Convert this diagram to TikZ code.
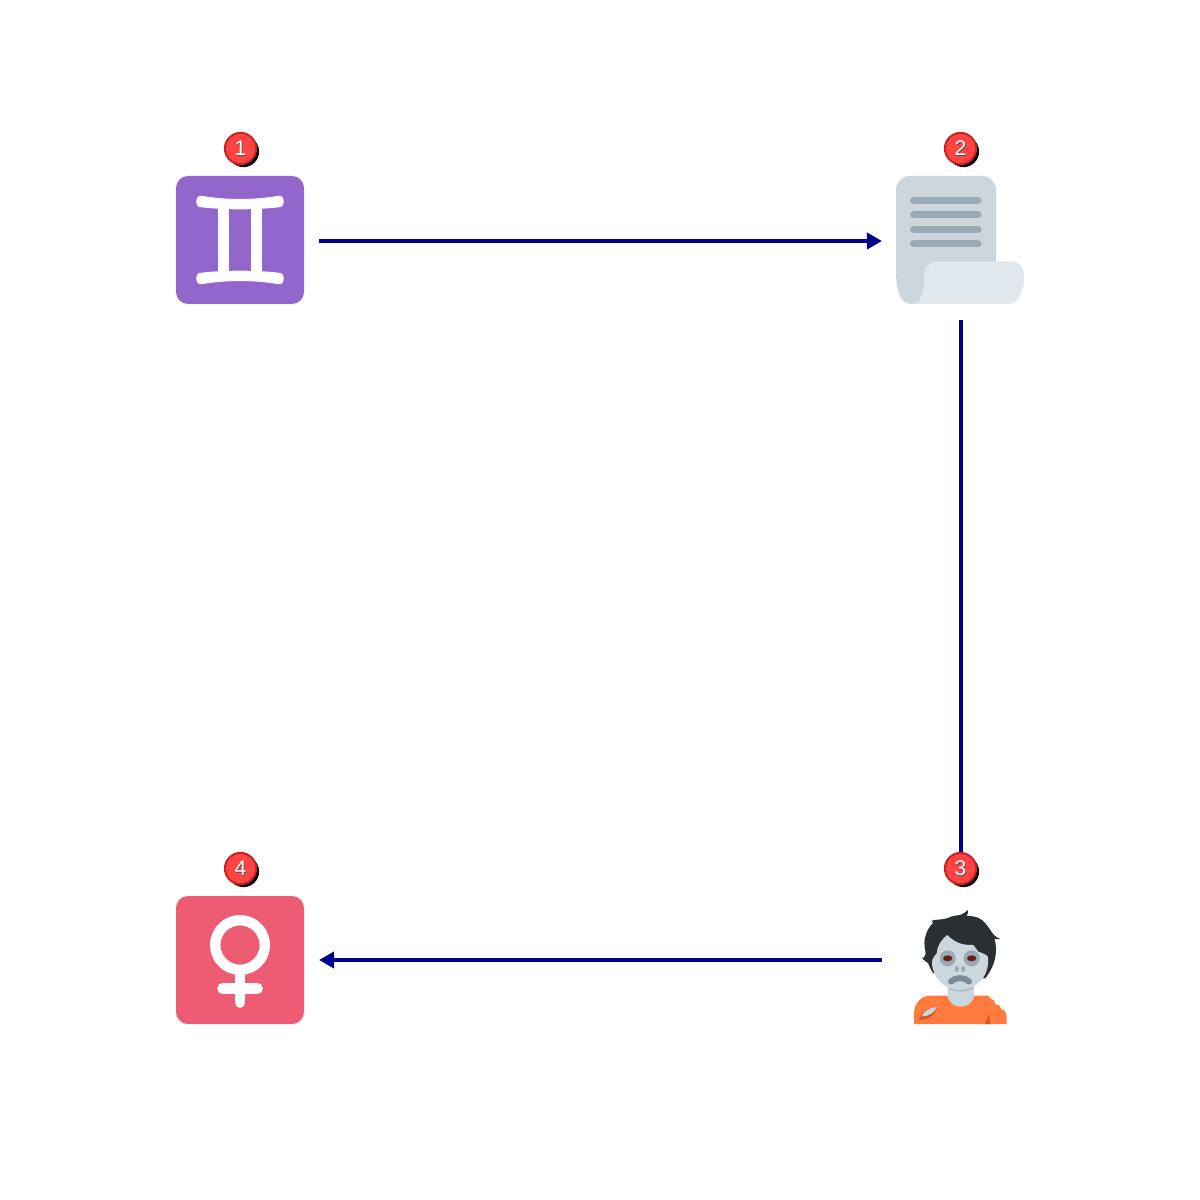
\documentclass[tikz,border=0pt]{standalone}
\usepackage{fontspec}
\setmainfont{Liberation Sans}
\usetikzlibrary{arrows.meta, calc, shadows}

\definecolor{gemini}{HTML}{9266CC}
\definecolor{venus}{HTML}{ED5C73}
\definecolor{sheet}{HTML}{CCD6DD}
\definecolor{sheetlight}{HTML}{E1E8ED}
\definecolor{sheetline}{HTML}{99AAB5}
\definecolor{mouthgray}{HTML}{7C8B96}
\definecolor{hair}{HTML}{292F33}
\definecolor{shirt}{HTML}{FF7A3D}
\definecolor{shirtdark}{HTML}{D9541E}
\definecolor{eyered}{HTML}{662113}
\definecolor{linkblue}{HTML}{00008B}
\definecolor{badgered}{HTML}{FF4444}
\definecolor{badgeedge}{HTML}{CC2222}

\begin{document}
\begin{tikzpicture}[
        x=0.025cm, y=-0.025cm,
        icon/.style={rectangle, inner sep=0pt, minimum size=3.2cm, outer sep=0.375cm},
        flow/.style={-{Triangle[length=0.375cm, width=0.4cm]}, line width=0.1cm, draw=linkblue},
        badge/.style={circle, draw=badgeedge, line width=0.05cm, fill=badgered, inner sep=0pt, minimum size=0.78cm,
            drop shadow={shadow xshift=0.075cm, shadow yshift=-0.075cm, fill=black, opacity=1}},
        digit/.style={inner sep=0pt, font=\fontsize{15pt}{15pt}\selectfont, text=white},
        digitshade/.style={inner sep=0pt, font=\fontsize{15pt}{15pt}\selectfont, text=black!70},
        glyph/.style={draw=white, line width=0.27cm, line cap=round},
        textline/.style={draw=sheetline, line width=0.175cm, line cap=round}
    ]
        \useasboundingbox (0,0) rectangle (1200,1200);
        \fill[white] (0,0) rectangle (1200,1200);

        % ICON NODES
        \node[icon] (gemini_icon) at (240,241) {};
        \node[icon] (scroll_icon) at (961,241) {};
        \node[icon] (zombie_icon) at (961,960) {};
        \node[icon] (venus_icon) at (240,960) {};

        % GEMINI
        \fill[gemini, rounded corners=0.3cm] (176,176) rectangle (304,304);
        \fill[white] (201.5,195.7) .. controls (225,200.1) and (255,200.1) .. (278.5,195.7)
            .. controls (285.5,195) and (285.5,208) .. (278.5,207.3)
            .. controls (255,210) and (225,210) .. (201.5,207.3)
            .. controls (194.5,208) and (194.5,195) .. (201.5,195.7) -- cycle;
        \fill[white] (201.5,284.3) .. controls (225,279.9) and (255,279.9) .. (278.5,284.3)
            .. controls (285.5,285) and (285.5,272) .. (278.5,272.7)
            .. controls (255,270) and (225,270) .. (201.5,272.7)
            .. controls (194.5,272) and (194.5,285) .. (201.5,284.3) -- cycle;
        \fill[white] (218,204) rectangle (229,276);
        \fill[white] (251,204) rectangle (262,276);

        % SCROLL
        \fill[sheet] (896,190) .. controls (896,182) and (902,176) .. (910,176) -- (982,176)
            .. controls (990,176) and (996,182) .. (996,190) -- (996,290) -- (912,304)
            .. controls (902,304) and (896,296) .. (896,270) -- cycle;
        \draw[textline] (913.5,200.7) -- (978,200.7);
        \draw[textline] (913.5,215) -- (978,215);
        \draw[textline] (913.5,229.3) -- (978,229.3);
        \draw[textline] (913.5,243.7) -- (978,243.7);
        \fill[sheetlight] (938,261.3) -- (1010,261.3) .. controls (1019,261.3) and (1024,267) .. (1024,275)
            .. controls (1024,295) and (1017,304) .. (1008,304) -- (912,304)
            .. controls (920,304) and (924,295) .. (924,277) .. controls (924,267) and (930,261.3) .. (938,261.3) -- cycle;

        % ZOMBIE
        \fill[shirt] (914,1024) -- (914,1012) .. controls (915,1003) and (921,996) .. (930,995.5) -- (988,995.5)
            -- (991,999) -- (994,1000) -- (995,1004) -- (999,1005) -- (1001,1009) -- (1005,1011) -- (1006.5,1016) -- (1006.5,1024) -- cycle;
        \fill[shirtdark] (989,1014) -- (990,1024) -- (985,1024) -- cycle;
        \fill[shirtdark] (920,1017.5) .. controls (923,1010) and (930,1007) .. (937.5,1006.5)
            .. controls (936,1013) and (931,1018) .. (925,1019) -- (919,1020) -- cycle;
        \fill[sheet] (921.5,1016.5) .. controls (924,1010.5) and (930,1007.5) .. (937,1006.8)
            .. controls (935,1012) and (930,1016) .. (921.5,1016.5) -- cycle;
        \fill[sheet] (947.5,985) -- (974,985) -- (974,997) .. controls (970,1010) and (952,1010) .. (947.5,997) -- cycle;
        \fill[sheetline!65!sheet] (947.5,985) -- (974,985) -- (974,987) .. controls (970,993) and (952,993) .. (947.5,987) -- cycle;
        \fill[hair] (931.7,920.7) .. controls (937,919) and (943,920) .. (948,918)
            .. controls (953,915) and (958,916) .. (961.7,914.3) .. controls (964,913) and (966,912) .. (967.7,910)
            .. controls (968,912) and (968,914) .. (966.7,915.7) .. controls (973,916) and (978,917) .. (982,920)
            .. controls (988,925) and (991,932) .. (994,935) .. controls (996,937) and (998,938) .. (1000,939)
            .. controls (998,940) and (996,939) .. (994.5,938.5) .. controls (997,948) and (996,958) .. (993,965)
            .. controls (991,970) and (988,975) .. (985,978.5) -- (933.3,973.3)
            .. controls (931,970) and (929,966) .. (928.3,963.3) .. controls (926,962) and (924,960) .. (922.3,958.5)
            .. controls (924,958) and (925,956) .. (925.7,953.3) .. controls (924,945) and (924,940) .. (925.5,936)
            .. controls (927,930) and (930,926) .. (933,923) -- cycle;
        \fill[sheet] (947.3,935) .. controls (951,939) and (957,943) .. (963.3,944.3)
            .. controls (967,945) and (970,945) .. (973.3,945) .. controls (975,947) and (977,950) .. (978.3,951.7)
            .. controls (982,953) and (986,954) .. (988,957) -- (988,962)
            .. controls (988,978) and (975,990) .. (960,990) .. controls (945,990) and (932,978) .. (932,962)
            .. controls (932,958) and (935.5,955) .. (936.7,953.3) .. controls (937,946) and (941,940) .. (947.3,935) -- cycle;
        \fill[sheetline] (947.7,958.3) circle[radius=8];
        \fill[sheetline] (971.7,958.3) circle[radius=8];
        \fill[eyered] (947.7,958.3) ellipse[x radius=4.7, y radius=3];
        \fill[eyered] (971.7,958.3) ellipse[x radius=4.7, y radius=3];
        \fill[sheetline] (956.8,969) ellipse[x radius=2, y radius=3];
        \fill[sheetline] (963.2,969) ellipse[x radius=2, y radius=3];
        \draw[draw=mouthgray, line width=0.15cm, line cap=round] (951,981.5) .. controls (955,977) and (965,977) .. (969,981.5);

        % VENUS
        \fill[venus, rounded corners=0.3cm] (176,896) rectangle (304,1024);
        \draw[white, line width=0.26cm] (240,945) circle[radius=24.8];
        \draw[glyph] (240,975) -- (240,1002.5);
        \draw[glyph] (222.5,988.5) -- (257.5,988.5);

        % FLOWS
        \draw[flow] (gemini_icon) -- (scroll_icon);
        \draw[flow] (scroll_icon) -- (zombie_icon);
        \draw[flow] (zombie_icon) -- (venus_icon);

        % BADGES
        \node[badge] (badge_gemini) at (240.5,148.5) {};
        \node[digitshade] (shade_gemini) at ($(badge_gemini)+(0.7,0.7)$) {1};
        \node[digit] (digit_gemini) at (badge_gemini) {1};

        \node[badge] (badge_scroll) at (960.5,148.5) {};
        \node[digitshade] (shade_scroll) at ($(badge_scroll)+(0.7,0.7)$) {2};
        \node[digit] (digit_scroll) at (badge_scroll) {2};

        \node[badge] (badge_zombie) at (960.5,868.5) {};
        \node[digitshade] (shade_zombie) at ($(badge_zombie)+(0.7,0.7)$) {3};
        \node[digit] (digit_zombie) at (badge_zombie) {3};

        \node[badge] (badge_venus) at (240.5,868.5) {};
        \node[digitshade] (shade_venus) at ($(badge_venus)+(0.7,0.7)$) {4};
        \node[digit] (digit_venus) at (badge_venus) {4};
    \end{tikzpicture}
\end{document}
